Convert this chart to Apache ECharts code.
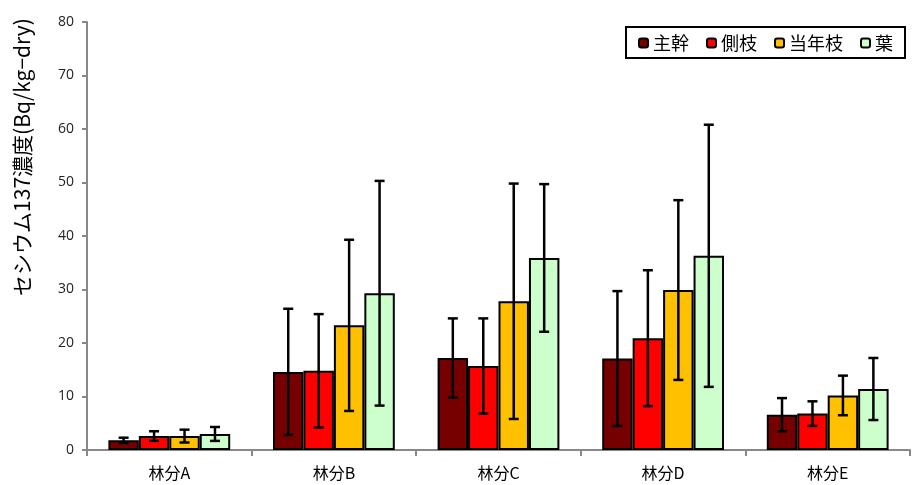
<!DOCTYPE html>
<html><head><meta charset="utf-8">
<script src="https://cdn.jsdelivr.net/npm/echarts@6/dist/echarts.min.js"></script>
<style>html,body{margin:0;padding:0;background:#fff}#c{width:912px;height:485px}</style>
</head><body><div id="c"></div>
<script>
var categories = ['林分A','林分B','林分C','林分D','林分E'];
var seriesNames = ['主幹','側枝','当年枝','葉'];
var trunk  = [1.8, 14.6, 17.2, 17.1, 6.6];
var branch = [2.6, 14.8, 15.7, 20.9, 6.8];
var shoot  = [2.6, 23.3, 27.8, 29.9, 10.2];
var leaf   = [3.0, 29.3, 35.9, 36.3, 11.4];
var trunkErr  = [0.5, 11.8, 7.4, 12.6, 3.1];
var branchErr = [0.9, 10.6, 8.9, 12.7, 2.3];
var shootErr  = [1.2, 16.0, 22.0, 16.8, 3.7];
var leafErr   = [1.3, 21.0, 13.8, 24.5, 5.8];
var yTicks = [0,10,20,30,40,50,60,70,80];

var colors = ['#760000','#ff0000','#ffc000','#ccffcc'];
var values = [trunk, branch, shoot, leaf];
var errs = [trunkErr, branchErr, shootErr, leafErr];
var catGap = 0.26;
var FONT = '"Noto Sans CJK JP", sans-serif';

var series = [];
values.forEach(function(v, i){
  series.push({
    name: seriesNames[i], type: 'bar', data: v,
    barGap: '0%', barCategoryGap: (catGap*100)+'%',
    itemStyle: {color: colors[i], borderColor: '#000', borderWidth: 2},
    emphasis: {disabled: true}
  });
});
values.forEach(function(v, i){
  series.push({
    type: 'custom', name: 'err'+i, z: 10,
    data: v.map(function(val, k){ return [k, val - errs[i][k], val + errs[i][k]]; }),
    encode: {x: 0, y: [1, 2]},
    renderItem: function(params, api){
      var k = api.value(0);
      var lo = api.coord([k, api.value(1)]);
      var hi = api.coord([k, api.value(2)]);
      var band = api.size([1, 0])[0];
      var bw = band * (1 - catGap) / 4;
      var x = lo[0] + (i - 1.5) * bw;
      var cap = 5;
      var st = {stroke: '#000', lineWidth: 2.5};
      return {type: 'group', children: [
        {type: 'line', shape: {x1: x, y1: lo[1], x2: x, y2: hi[1]}, style: st},
        {type: 'line', shape: {x1: x-cap, y1: lo[1], x2: x+cap, y2: lo[1]}, style: st},
        {type: 'line', shape: {x1: x-cap, y1: hi[1], x2: x+cap, y2: hi[1]}, style: st}
      ]};
    }
  });
});

var chart = echarts.init(document.getElementById('c'), null, {renderer: 'canvas'});
chart.setOption({
  animation: false,
  textStyle: {fontFamily: FONT},
  grid: {left: 87, right: 2, top: 22, bottom: 35, containLabel: false},
  legend: {
    data: seriesNames, right: 7, top: 27,
    itemWidth: 9, itemHeight: 9, itemGap: 17,
    borderColor: '#000', borderWidth: 2, padding: [7, 12, 6, 12],
    textStyle: {fontSize: 18, color: '#000', fontFamily: FONT},
    itemStyle: {borderColor: '#000', borderWidth: 2}
  },
  xAxis: {
    type: 'category', data: categories,
    axisLine: {lineStyle: {color: '#888', width: 2}},
    axisTick: {show: true, length: 6, lineStyle: {color: '#888', width: 2}},
    axisLabel: {fontSize: 16, color: '#000', margin: 15, fontFamily: FONT}
  },
  yAxis: {
    type: 'value', min: yTicks[0], max: yTicks[yTicks.length-1], interval: 10,
    splitLine: {show: false},
    axisLine: {show: true, lineStyle: {color: '#888', width: 2}},
    axisTick: {show: true, length: 5, lineStyle: {color: '#888', width: 2}},
    axisLabel: {fontSize: 14, color: '#222', margin: 13, fontFamily: 'Open Sans, sans-serif'}
  },
  graphic: [{
    type: 'text', x: 22, y: 157, rotation: Math.PI/2,
    style: {text: 'セシウム137濃度(Bq/kg−dry)', fontSize: 21, fill: '#000',
      fontFamily: FONT, textAlign: 'center', textVerticalAlign: 'middle'}
  }],
  series: series
});
</script></body></html>
